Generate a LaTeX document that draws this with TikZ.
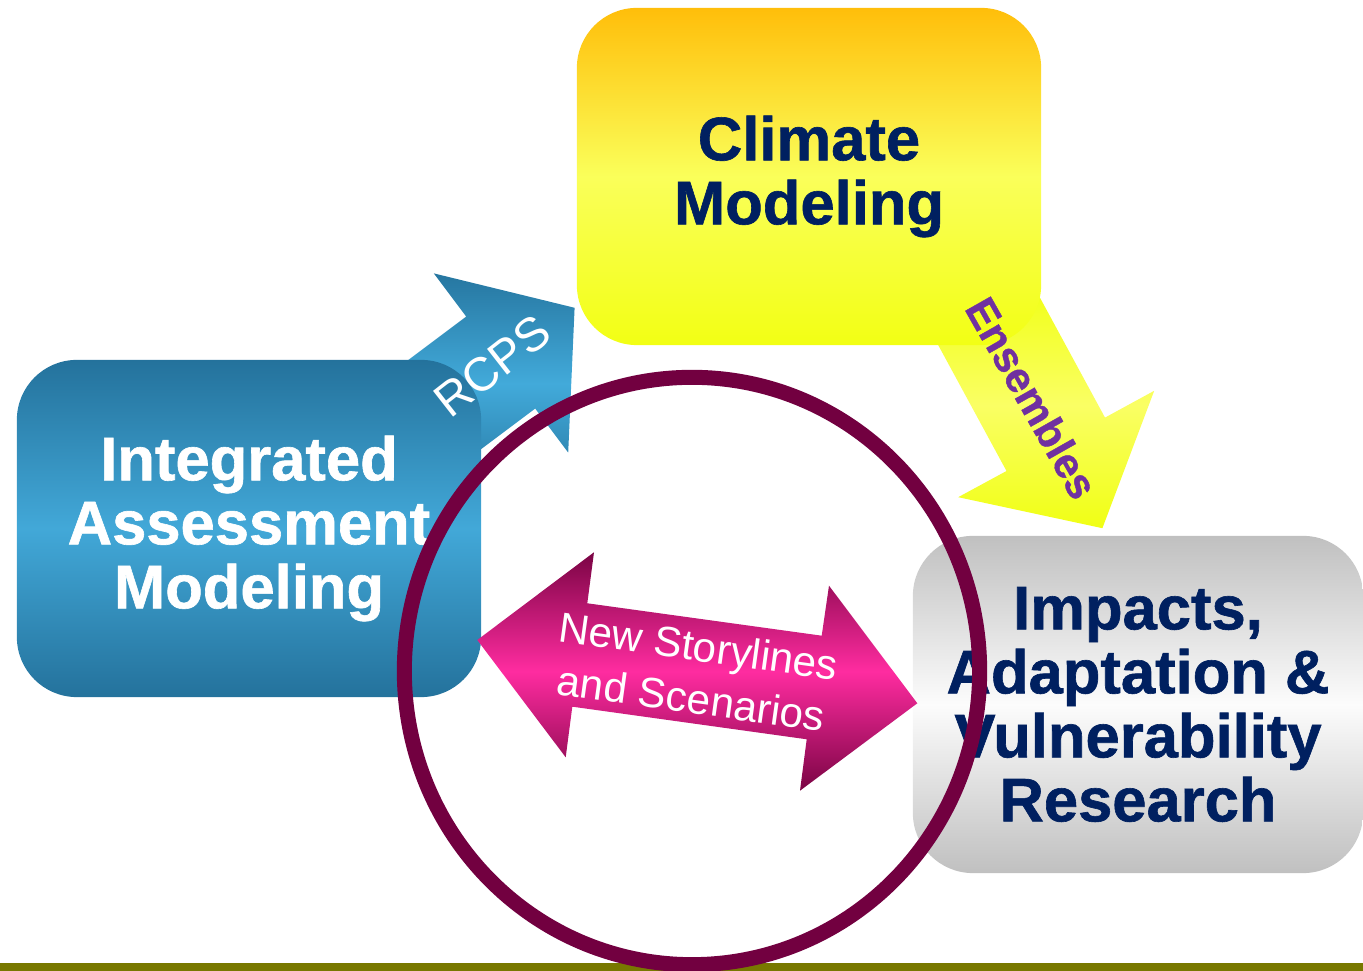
\documentclass[tikz,border=0pt]{standalone}
\usepackage{fontspec}
\setmainfont{Liberation Sans}
\newfontfamily\heavyfont[FakeBold=1]{Liberation Sans Bold}
\usetikzlibrary{shapes,arrows}

\definecolor{navytext}{RGB}{0,32,96}
\definecolor{enspurple}{RGB}{112,48,160}
\definecolor{ringred}{RGB}{114,0,64}
\definecolor{barolive}{RGB}{120,120,0}
\definecolor{climtop}{RGB}{255,190,10}
\definecolor{climmid}{RGB}{250,255,90}
\definecolor{climbot}{RGB}{242,255,20}
\definecolor{iamdark}{RGB}{36,114,156}
\definecolor{iamlight}{RGB}{66,168,216}
\definecolor{iavgray}{RGB}{192,192,192}
\definecolor{iavlight}{RGB}{252,252,252}
\definecolor{rcpsdark}{RGB}{38,118,160}
\definecolor{rcpslight}{RGB}{66,170,218}
\definecolor{enslight}{RGB}{250,255,100}
\definecolor{ensdark}{RGB}{240,255,20}
\definecolor{pinkdark}{RGB}{122,4,68}
\definecolor{pinklight}{RGB}{255,44,160}

\tikzset{
    block/.style = {rectangle,
                    rounded corners=0.6cm,
                    minimum width=4.64cm,
                    minimum height=3.37cm,
                    inner sep=0pt,
                    align=center,
                    font=\heavyfont\fontsize{17.5}{18.2}\selectfont
    },
    climblock/.style = {block, top color=climtop, bottom color=climbot, middle color=climmid, text=navytext},
    iamblock/.style  = {block, top color=iamdark, bottom color=iamdark, middle color=iamlight, text=white},
    iavblock/.style  = {block, minimum width=4.5cm, top color=iavgray, bottom color=iavgray, middle color=iavlight, text=navytext},
    rcpsfill/.style  = {top color=rcpsdark, bottom color=rcpsdark, middle color=rcpslight},
    ensfill/.style   = {top color=ensdark, bottom color=ensdark, middle color=enslight},
    storyfill/.style = {top color=pinkdark, bottom color=pinkdark, middle color=pinklight},
    ring/.style      = {draw=ringred, line width=0.15cm}
}

\begin{document}
\begin{tikzpicture}[x=0.01cm, y=-0.01cm]
    \useasboundingbox (0,0) rectangle (1363,971);
    \clip (0,0) rectangle (1363,971);

    % block arrows behind the boxes
    \shade[rcpsfill] (351.8,402.4) -- (466.2,316.6) -- (433.8,273.4) -- (574.6,307.8)
        -- (568.2,452.6) -- (535.2,408.6) -- (420.8,494.4) -- cycle;
    \shade[ensfill] (933.1,335.7) -- (1006.5,471) -- (958.2,497.2) -- (1102.4,528.2)
        -- (1154.2,390.8) -- (1105,417.6) -- (1031.6,282.3) -- cycle;

    \node [climblock] (climate) at (809,176.5) {Climate\\Modeling};
    \node [iamblock]  (iam)     at (249,528.5) {Integrated\\Assessment\\Modeling};
    \node [iavblock]  (iav)     at (1138,704.5) {Impacts,\\Adaptation \&\\Vulnerability\\Research};

    \node [rotate=38, text=white, font=\fontsize{13.5}{13.5}\selectfont] (rcps) at (492,366) {RCPS};
    \node [rotate=-60.5, text=enspurple, font=\heavyfont\fontsize{12}{12}\selectfont] (ens) at (1032,398) {Ensembles};

    \fill[barolive] (0,963) rectangle (1363,971);
    \draw[ring] (692,671) ellipse [x radius=2.875cm, y radius=2.935cm];

    \shade[storyfill] (477.3,640) -- (594,552.3) -- (587.3,603.3) -- (821.7,635.7)
        -- (829,585.7) -- (917.3,703.3) -- (800,790.7) -- (806.7,739.3)
        -- (572.3,706.7) -- (565.7,757.3) -- cycle;
    \node [rotate=-7.9, text=white, align=center, font=\fontsize{12}{15}\selectfont] (story) at (695,672) {New Storylines\\and Scenarios};
\end{tikzpicture}
\end{document}
